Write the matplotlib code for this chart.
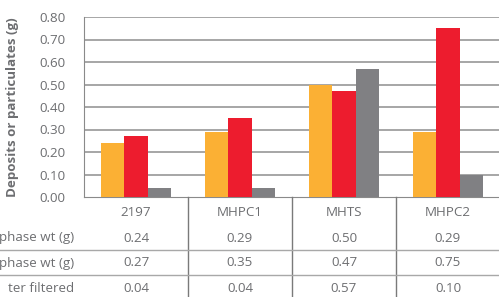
import matplotlib
matplotlib.use("Agg")
import matplotlib.pyplot as plt
import matplotlib.transforms as mtransforms
from matplotlib.lines import Line2D
import numpy as np

categories = ['2197', 'MHPC1', 'MHTS', 'MHPC2']
upper_phase = [0.24, 0.29, 0.50, 0.29]
lower_phase = [0.27, 0.35, 0.47, 0.75]
water_filtered = [0.04, 0.04, 0.57, 0.10]
# row labels are cropped at the left edge in the source image
row_labels = ['phase wt (g)', 'phase wt (g)', 'ter filtered']
y_ticks = [0.0, 0.1, 0.2, 0.3, 0.4, 0.5, 0.6, 0.7, 0.8]

colors = ['#FBB034', '#ED1C2E', '#808083']
text_col = '#6D6E71'
W, H = 499, 297
fs = 9.6

plt.rcParams['font.family'] = ['Open Sans', 'DejaVu Sans']

fig = plt.figure(figsize=(W / 100, H / 100), dpi=100)
# plot area in pixels: x 84..500, y 17..197 from top
ax = fig.add_axes([84 / W, (H - 197) / H, 416 / W, 180 / H])

x = np.arange(len(categories)) + 0.5
bw = 0.225
for i, (vals, c) in enumerate(zip([upper_phase, lower_phase, water_filtered], colors)):
    ax.bar(x + (i - 1) * bw, vals, width=bw, color=c, zorder=3)

ax.set_xlim(0, 4)
ax.set_ylim(0, 0.8)
ax.set_yticks(y_ticks)
ax.set_yticklabels(['%.2f' % v for v in y_ticks], color=text_col, fontsize=fs)
ax.set_xticks([])
ax.tick_params(axis='y', length=0, pad=13.5)
for v in y_ticks[1:]:
    ax.axhline(v, color='#8E8E8E', lw=1.1, zorder=1)
for s in ['top', 'right']:
    ax.spines[s].set_visible(False)
ax.spines['left'].set_color('#8A8A8A')
ax.spines['bottom'].set_color('#8A8A8A')

fig.text(13 / W, 1 - 107 / H, 'Deposits or particulates (g)', rotation=90,
         ha='center', va='center', fontsize=fs, fontweight='bold', color=text_col)

# table under the chart
tr = mtransforms.blended_transform_factory(ax.transData, fig.transFigure)
for b in [1, 2, 3]:
    fig.add_artist(Line2D([b, b], [1 - 197 / H, 0], transform=tr,
                          color='#7A7A7A', lw=1))
for yy in [250, 275]:
    fig.add_artist(Line2D([0, 1], [1 - yy / H, 1 - yy / H],
                          transform=fig.transFigure, color='#A8A8A8', lw=1))

header_y = 1 - 212 / H
for xi, cat in zip(x, categories):
    ax.text(xi, header_y, cat, transform=tr, ha='center', va='center',
            fontsize=fs, color=text_col)

row_ys = [238, 263, 288]
for label, vals, ry in zip(row_labels, [upper_phase, lower_phase, water_filtered], row_ys):
    fig.text(74 / W, 1 - ry / H, label, ha='right', va='center',
             fontsize=fs, color=text_col)
    for xi, v in zip(x, vals):
        ax.text(xi, 1 - ry / H, '%.2f' % v, transform=tr, ha='center',
                va='center', fontsize=fs, color=text_col)

fig.savefig('out.png', dpi=100)
